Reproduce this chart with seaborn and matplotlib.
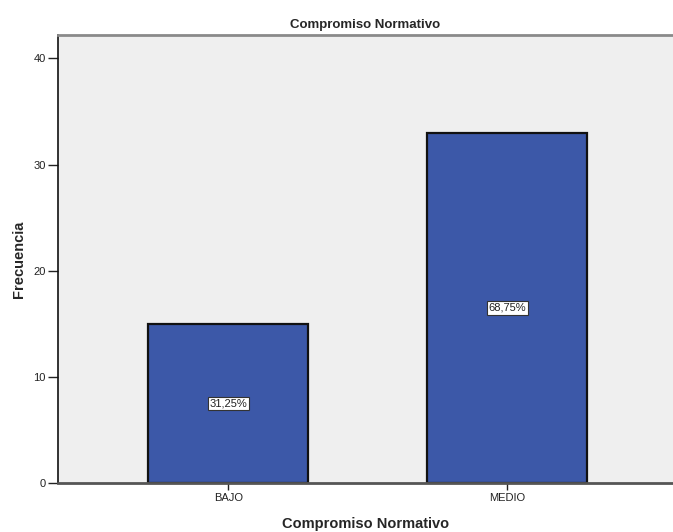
import matplotlib
matplotlib.use("Agg")
import matplotlib.pyplot as plt
import seaborn as sns
import pandas as pd

categorias = ["BAJO", "MEDIO"]
frecuencias = [15, 33]
porcentajes = ["31,25%", "68,75%"]
y_ticks = [0, 10, 20, 30, 40]

sns.set_theme(style="white")
plt.rcParams["font.family"] = ["Liberation Sans", "DejaVu Sans"]

df = pd.DataFrame({"categoria": categorias, "frecuencia": frecuencias})

fig = plt.figure(figsize=(6.73, 5.32), dpi=100)
ax = fig.add_axes([0.0862, 0.0921, 0.9138, 0.8419])
ax.set_facecolor("#efefef")

sns.barplot(data=df, x="categoria", y="frecuencia", ax=ax, color="#3c58a8",
            saturation=1, width=0.573, edgecolor="#111111", linewidth=1.6)

for patch, texto, valor in zip(ax.patches, porcentajes, frecuencias):
    cx = patch.get_x() + patch.get_width() / 2
    ax.text(cx, valor / 2, texto, ha="center", va="center", fontsize=8,
            color="#222222",
            bbox=dict(boxstyle="square,pad=0.15", facecolor="white",
                      edgecolor="#333333", linewidth=0.8))

ax.set_xlim(-0.61, 1.595)
ax.set_ylim(0, 42.2)
ax.set_yticks(y_ticks)
ax.tick_params(axis="both", labelsize=8, colors="#222222", length=5,
               width=1, direction="out", left=True, bottom=True, pad=2)
ax.tick_params(axis="y", length=7)

for side in ["left", "bottom"]:
    ax.spines[side].set_color("#111111")
    ax.spines[side].set_linewidth(1.2)
ax.spines["top"].set_color("#8a8a8a")
ax.spines["top"].set_linewidth(2)
ax.spines["right"].set_visible(False)
ax.spines["bottom"].set_color("#555555")
ax.spines["bottom"].set_linewidth(2)

ax.set_title("Compromiso Normativo", fontsize=9.5, fontweight="bold", pad=5)
ax.set_xlabel("Compromiso Normativo", fontsize=10.5, fontweight="bold", labelpad=10)
ax.set_ylabel("Frecuencia", fontsize=10.5, fontweight="bold")
ax.yaxis.set_label_coords(-0.052, 0.5)

fig.savefig("out.png", dpi=100)
